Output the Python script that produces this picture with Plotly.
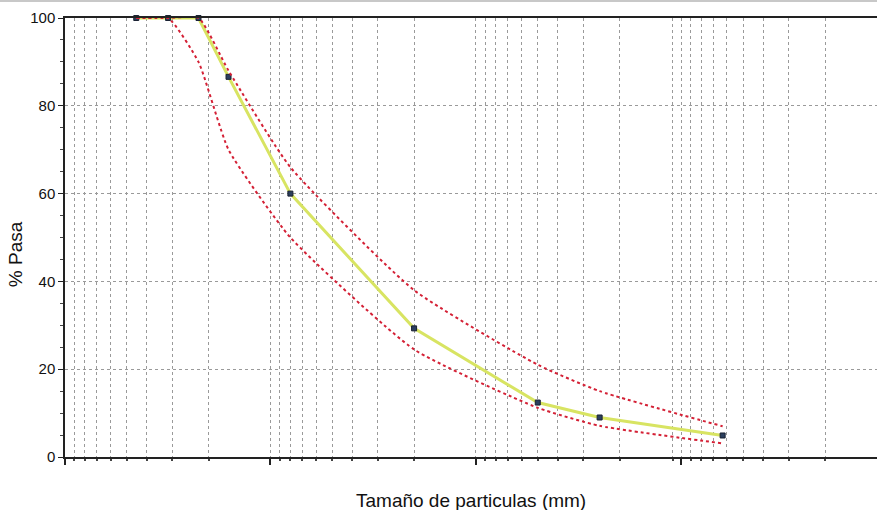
import plotly.graph_objects as go

# Sieve sizes (mm) and % passing
sizes = [45, 31.5, 22.4, 16, 8, 2, 0.5, 0.25, 0.063]
pasa = [100, 100, 100, 86.6, 60.0, 29.3, 12.4, 9.0, 4.9]
upper = [100, 100, 100, 88, 66, 38, 21, 15, 7]
lower = [100, 100, 90, 70, 50, 24.5, 11.2, 7.1, 3.1]

y_ticks = [0, 20, 40, 60, 80, 100]
x_decades = [100, 10, 1, 0.1]
x_minor = [k * d for d in [10, 1, 0.1, 0.01] for k in range(2, 10)] + [0.11]

x_title = "Tamaño de particulas (mm)"
y_title = "% Pasa"

fig = go.Figure()
fig.add_trace(go.Scatter(
    x=sizes, y=pasa, mode="lines+markers",
    line=dict(color="#d8e462", width=3),
    marker=dict(symbol="square", size=5, color="#2c3f5e", line=dict(color="#1a2233", width=1)),
    cliponaxis=False, showlegend=False))
for lim in (upper, lower):
    fig.add_trace(go.Scatter(
        x=sizes, y=lim, mode="lines",
        line=dict(color="#d42035", width=2, dash="dot", shape="spline", smoothing=0.5),
        cliponaxis=False, showlegend=False))

grid = dict(showgrid=True, gridcolor="#9a9a9a", griddash="dot", gridwidth=1)

fig.update_layout(
    width=877, height=510,
    margin=dict(l=65, r=0, t=18, b=53, autoexpand=False),
    paper_bgcolor="white", plot_bgcolor="white",
    font=dict(family="Liberation Sans, Arial, sans-serif", color="#111"),
    xaxis=dict(
        type="log", range=[2, -1.952], automargin=False,
        tickmode="array", tickvals=x_decades, showticklabels=False,
        ticks="outside", ticklen=6, tickwidth=1.5, tickcolor="#222",
        showline=True, linecolor="#222", linewidth=1.5, mirror=True,
        zeroline=False,
        minor=dict(tickmode="array", tickvals=x_minor, ticks="outside", ticklen=2,
                   tickcolor="#444", **grid),
        **grid),
    yaxis=dict(
        range=[0, 100], tickmode="array", tickvals=y_ticks, automargin=False,
        ticks="outside", ticklen=5, tickcolor="#222",
        showline=True, linecolor="#222", linewidth=1.5,
        zeroline=False,
        tickfont=dict(size=15, color="#111"),
        minor=dict(dtick=5, ticks="outside", ticklen=3, tickcolor="#444", showgrid=False),
        **grid),
    annotations=[
        dict(text=x_title, xref="paper", yref="paper", x=0.5, y=-0.098,
             xanchor="center", yanchor="middle", showarrow=False,
             font=dict(size=19, color="#111")),
        dict(text=y_title, xref="paper", yref="paper", x=-0.061, y=0.463,
             xanchor="center", yanchor="middle", showarrow=False, textangle=-90,
             font=dict(size=19, color="#111")),
    ],
    shapes=[dict(type="line", xref="paper", yref="paper", x0=-0.1, x1=1.0,
                 y0=1.0387, y1=1.0387, line=dict(color="#c8c8c8", width=2))],
)

fig.write_html("out.html", config={"displayModeBar": False},
               post_script="document.body.style.margin='0';")
